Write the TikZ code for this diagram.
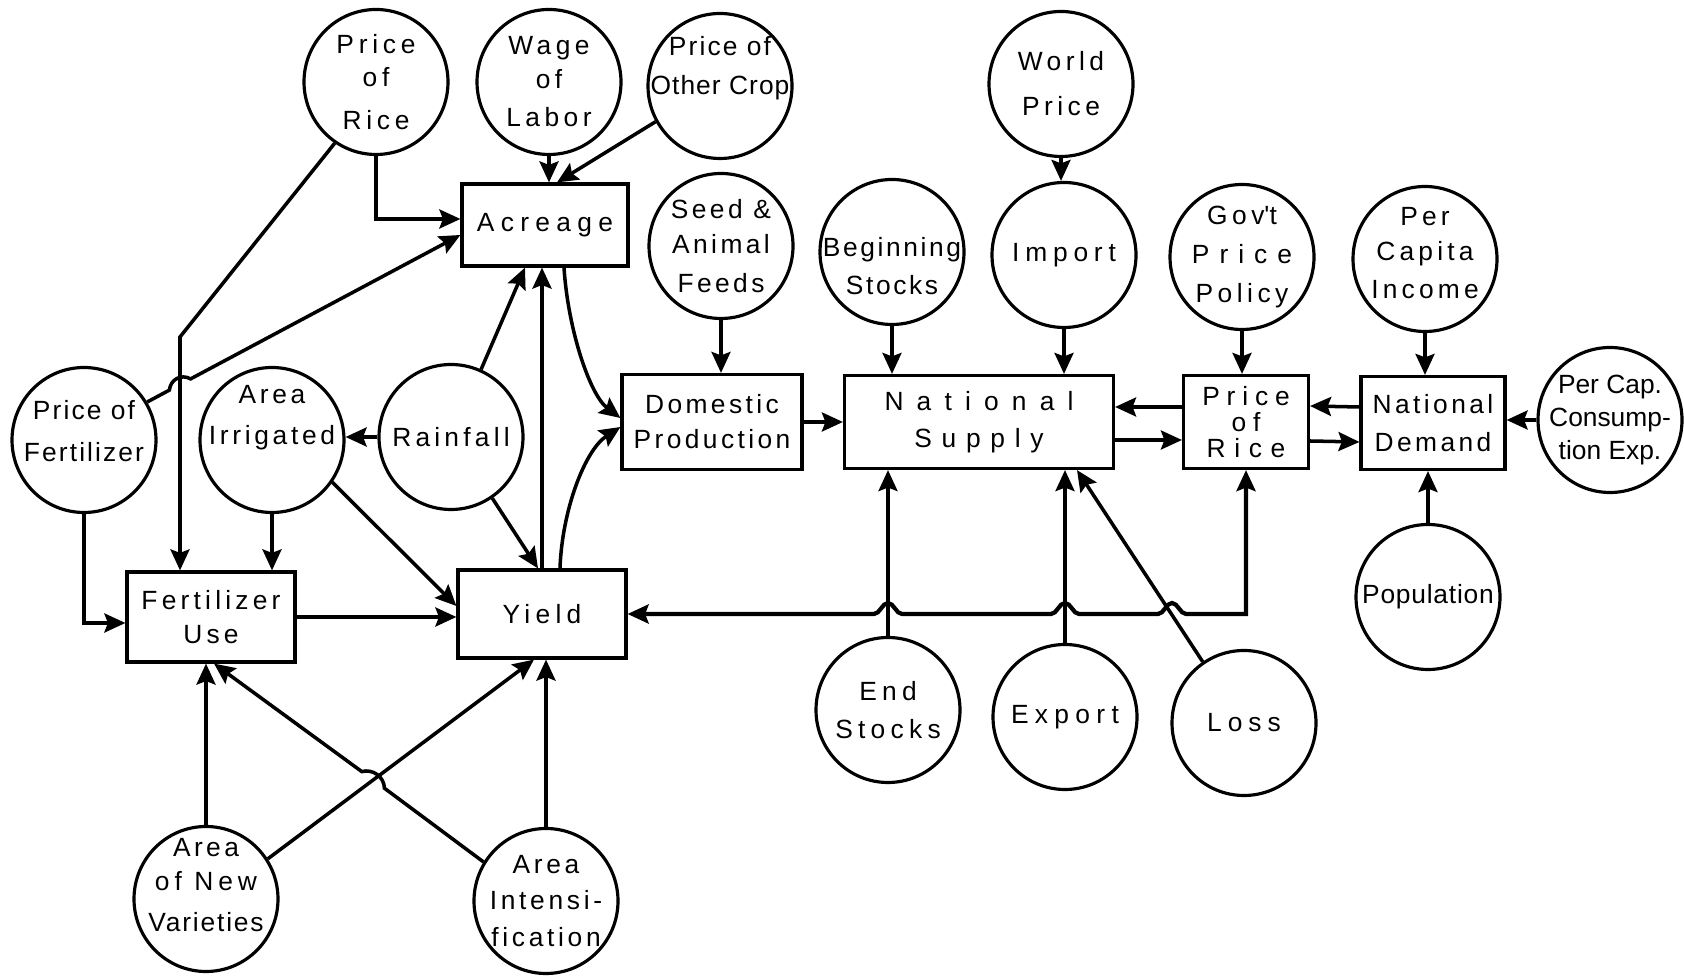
\documentclass[tikz,border=0pt]{standalone}
\usepackage{fontspec}
\setmainfont{Liberation Sans}
\usetikzlibrary{shapes.geometric,arrows.meta}
\newcommand\lblfont{\fontsize{7.5}{11}\selectfont}
\newcommand\trk[2]{{\addfontfeature{LetterSpace=#1}#2}}

\begin{document}
\begin{tikzpicture}[x=0.1mm, y=-0.1mm, line width=0.9pt,
    >={Stealth[length=2.1mm,width=1.9mm,inset=0.35mm]},
    vnode/.style={ellipse, draw, minimum width=14.4mm, minimum height=14.5mm, inner sep=0pt},
    bnode/.style={rectangle, draw, align=center, inner sep=0pt, font=\lblfont},
    lbl/.style={align=center, inner sep=0pt, font=\lblfont},
    spc/.style={font=\lblfont\addfontfeature{LetterSpace=#1}},
    link/.style={->, line width=1pt}]
  \useasboundingbox (0,0) rectangle (1684,976);

  % circles, top row
  \node[vnode, label={[lbl,spc=18]center:Price\\[-1.5pt]of\\[1.2pt]Rice}] (ricepr) at (376,82) {};
  \node[vnode, label={[lbl,spc=17]center:Wage\\[-1.5pt]of\\Labor}] (wage) at (549,82) {};
  \node[vnode, label={[lbl,spc=4,yshift=1.8mm]center:\trk{8}{Price of}\\Other Crop}] (othcrop) at (720,86) {};
  \node[vnode, label={[lbl,spc=17]center:World\\[1.8pt]Price}] (world) at (1061,84) {};
  \node[vnode, label={[lbl,spc=13]center:Seed \&\\[-1pt]Animal\\Feeds}] (seed) at (721,246) {};
  \node[vnode, label={[lbl,spc=10,yshift=-1.4mm]center:Beginning\\Stocks}] (begstk) at (892,252) {};
  \node[vnode, label={[lbl,spc=22]center:Import}] (import) at (1064,255) {};
  \node[vnode, label={[lbl,spc=17]center:Gov\textquotesingle t\\\trk{38}{Price}\\Policy}] (govpol) at (1242,257) {};
  \node[vnode, label={[lbl,spc=16,yshift=0.6mm]center:Per\\[-1pt]Capita\\Income}] (income) at (1425,259) {};
  \node[vnode, label={[lbl,spc=0]center:Per Cap.\\[-1.5pt]Consump-\\[-1.5pt]tion Exp.}] (percap) at (1610,420) {};

  % circles, middle row
  \node[vnode, label={[lbl,spc=8,yshift=0.9mm]center:Price of\\[1pt]Fertilizer}] (fertpr) at (84,440) {};
  \node[vnode, label={[lbl,spc=14,yshift=2.2mm]center:Area\\[0.7pt]Irrigated}] (irrig) at (272,440) {};
  \node[vnode, label={[lbl,spc=16]center:Rainfall}] (rain) at (451,437) {};

  % circles, bottom row
  \node[vnode, label={[lbl,spc=13,yshift=1.4mm]center:Area\\[-1.2pt]\trk{19}{of New}\\[0.6pt]\trk{7}{Varieties}}] (newvar) at (206,899) {};
  \node[vnode, label={[lbl,spc=14]center:Area\\[-0.7pt]Intensi-\\[-0.7pt]fication}] (intens) at (546,901) {};
  \node[vnode, label={[lbl,spc=20]center:End\\Stocks}] (endstk) at (888,710) {};
  \node[vnode, label={[lbl,spc=24]center:Export}] (export) at (1065,717) {};
  \node[vnode, label={[lbl,spc=23]center:Loss}] (loss) at (1244,723) {};
  \node[vnode, label={[lbl,spc=3]center:Population}] (pop) at (1428,597) {};

  % boxes
  \node[bnode, spc=24, minimum width=16.6mm, minimum height=8.2mm] (acreage) at (545,225) {Acreage};
  \node[bnode, spc=13, minimum width=18mm, minimum height=9.5mm] (domprod) at (712,422) {Domestic\\[-1pt]Production};
  \node[bnode, spc=37, minimum width=26.9mm, minimum height=9.3mm] (natsup) at (979,422) {\trk{50}{National}\\[-0.5pt]Supply};
  \node[bnode, spc=26, minimum width=12.5mm, minimum height=9.3mm] (pricebox) at (1246,422) {Price\\[-3.5pt]of\\[-3.5pt]\trk{33}{Rice}};
  \node[bnode, spc=13, minimum width=14.4mm, minimum height=9.3mm] (natdem) at (1433,423) {National\\Demand};
  \node[bnode, spc=16, minimum width=16.8mm, minimum height=9mm] (fertuse) at (211,617) {Fertilizer\\[-1.3pt]Use};
  \node[bnode, spc=20, minimum width=16.8mm, minimum height=8.8mm] (yield) at (542,614) {Yield};

  % into acreage
  \draw[link] (ricepr.south) |- ([yshift=0.6mm]acreage.west);
  \draw[link] (wage.south) -- (wage.south |- acreage.north);
  \draw[link] (othcrop.209) -- ([xshift=1.2mm]acreage.north);
  \draw[link] (fertpr.31) -- (169.4,390.1) .. controls (170.5,379.3) and (181.1,373.7) .. (190.6,378.9) -- ([yshift=-1mm]acreage.west);
  \draw[link] (rain.66) -- ([xshift=-2mm]acreage.south);
  \draw[link] (yield.north) -- (yield.north |- acreage.south);

  % into domestic production
  \draw[link] ([xshift=1.9mm]acreage.south) .. controls (568,330) and (590,395) .. ([yshift=0.4mm]domprod.west);
  \draw[link] ([xshift=1.8mm]yield.north) .. controls (562,510) and (585,450) .. ([yshift=-0.5mm]domprod.west);
  \draw[link] (seed.south) -- (seed.south |- domprod.north);

  % into yield
  \draw[link] (fertuse.east) -- (fertuse.east -| yield.west);
  \draw[link] (irrig.325) -- ([yshift=0.8mm]yield.west);
  \draw[link] (rain.304) -- ([xshift=-0.4mm]yield.north);
  \draw[link] (newvar.33) -- ([xshift=-0.8mm]yield.south);
  \draw[link] (intens.north) -- (intens.north |- yield.south);

  % into fertilizer use
  \draw[link] (ricepr.236) -- (180,337) -- ([xshift=-3.1mm]fertuse.north);
  \draw[link] (irrig.south) -- (irrig.south |- fertuse.north);
  \draw[link] (fertpr.south) |- ([yshift=-0.6mm]fertuse.west);
  \draw[link] (newvar.north) -- (newvar.north |- fertuse.south);
  \draw[link] (intens.148) -- (384.4,788.2) .. controls (384.2,776.9) and (372.9,768.6) .. (361.8,771.6) -- ([xshift=0.3mm]fertuse.south);
  \draw[link] (rain.west) -- (rain.west -| irrig.east);

  % supply and demand
  \draw[link] (domprod.east) -- (natsup.west);
  \draw[link] (begstk.south) -- (begstk.south |- natsup.north);
  \draw[link] (world.south) -- (world.south |- import.north);
  \draw[link] (import.south) -- (import.south |- natsup.north);
  \draw[link] (govpol.south) -- (govpol.south |- pricebox.north);
  \draw[link] (income.south) -- (income.south |- natdem.north);
  \draw[link] ([yshift=1.5mm]pricebox.west) -- ([yshift=1.5mm]natsup.east);
  \draw[link] ([yshift=-1.8mm]natsup.east) -- ([yshift=-1.8mm]pricebox.west);
  \draw[link] ([yshift=1.6mm]natdem.west) -- ([yshift=1.6mm]pricebox.east);
  \draw[link] ([yshift=-1.9mm]pricebox.east) -- ([yshift=-1.9mm]natdem.west);
  \draw[link] (percap.west) -- (percap.west -| natdem.east);
  \draw[link] (pop.north) -- (pop.north |- natdem.south);
  \draw[link] (endstk.north) -- (endstk.north |- natsup.south);
  \draw[link] (export.north) -- (export.north |- natsup.south);
  \draw[link] (loss.124) -- ([xshift=9.8mm]natsup.south);

  % price of rice back to yield
  \draw[link, <->, line width=1.2pt] (pricebox.south) -- (pricebox.south |- yield.east) -- (1186,614)
    .. controls (1180,614) and (1178,603) .. (1172,603) .. controls (1166,603) and (1164,614) .. (1158,614) -- (1079,614)
    .. controls (1073,614) and (1071,603) .. (1065,603) .. controls (1059,603) and (1057,614) .. (1051,614) -- (902,614)
    .. controls (896,614) and (894,603) .. (888,603) .. controls (882,603) and (880,614) .. (874,614) -- (yield.east);
\end{tikzpicture}
\end{document}
